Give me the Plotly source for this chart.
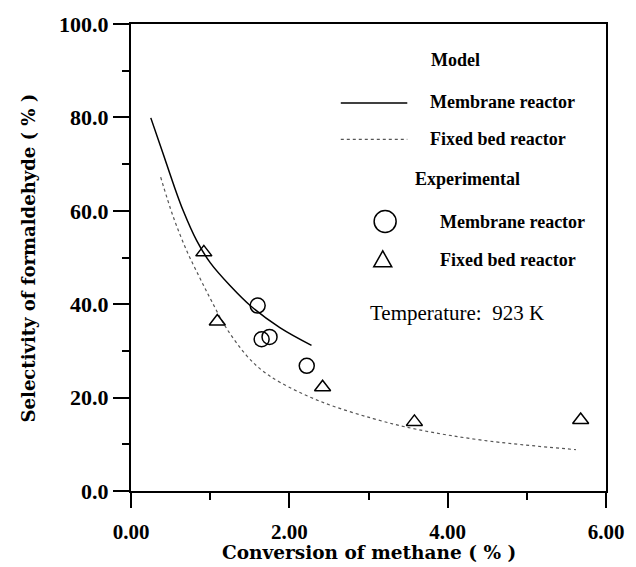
import plotly.graph_objects as go

# Model curves
mem_model_x = [0.25, 0.41, 0.53, 0.66, 0.83, 1.0, 1.25, 1.52, 1.88, 2.28]
mem_model_y = [79.9, 72.0, 66.0, 60.0, 53.6, 48.9, 44.0, 39.5, 35.0, 31.2]
fb_model_x = [0.375, 0.53, 0.70, 0.87, 1.02, 1.20, 1.46, 1.65, 1.88, 2.39, 3.06, 3.61, 4.45, 5.62]
fb_model_y = [67.2, 58.9, 51.6, 45.6, 40.6, 35.0, 29.0, 25.9, 23.3, 19.2, 15.5, 13.2, 10.85, 8.85]

# Experimental points
mem_exp_x = [1.60, 1.65, 1.75, 2.22]
mem_exp_y = [39.7, 32.5, 33.0, 26.8]
fb_exp_x = [0.92, 1.09, 2.42, 3.58, 5.68]
fb_exp_y = [51.1, 36.3, 22.2, 14.8, 15.2]

x_ticks = [0, 2, 4, 6]
y_ticks = [0, 20, 40, 60, 80, 100]

SERIF = "Liberation Serif"
HEAVY = "DejaVu Serif"

fig = go.Figure()
fig.add_trace(go.Scatter(x=mem_model_x, y=mem_model_y, mode="lines", line_shape="spline",
                         line=dict(color="black", width=1.5), showlegend=False))
fig.add_trace(go.Scatter(x=fb_model_x, y=fb_model_y, mode="lines", line_shape="spline",
                         line=dict(color="#555555", width=1.2, dash="dot"), showlegend=False))
fig.add_trace(go.Scatter(x=mem_exp_x, y=mem_exp_y, mode="markers",
                         marker=dict(symbol="circle-open", size=15, color="black", line=dict(width=1.5)),
                         showlegend=False))
fig.add_trace(go.Scatter(x=fb_exp_x, y=fb_exp_y, mode="markers",
                         marker=dict(symbol="triangle-up-open", size=14, color="black", line=dict(width=1.5)),
                         showlegend=False))

axis_common = dict(showline=True, linecolor="black", linewidth=2, mirror=True,
                   ticks="outside", tickcolor="black", tickwidth=2, showgrid=False, zeroline=False)

fig.update_xaxes(range=[0, 6], tickvals=x_ticks, tickformat=".2f", ticklen=15, ticklabelstandoff=6,
                 tickfont=dict(family=SERIF, size=21, color="black", weight="bold"),
                 minor=dict(dtick=1, ticklen=7, ticks="outside", tickcolor="black", tickwidth=2),
                 **axis_common)
fig.update_yaxes(range=[0, 100], tickvals=y_ticks, tickformat=".1f", ticklen=16,
                 tickfont=dict(family=SERIF, size=22, color="black", weight="bold"),
                 minor=dict(dtick=10, ticklen=7, ticks="outside", tickcolor="black", tickwidth=2),
                 **axis_common)

ann = []
ann.append(dict(text="<b>Conversion of methane ( % )</b>", xref="paper", yref="paper", x=0.5, y=-0.132,
                xanchor="center", yanchor="middle", showarrow=False,
                font=dict(family=HEAVY, size=18.5, color="black")))
ann.append(dict(text="<b>Selectivity of formaldehyde ( % )</b>", xref="paper", yref="paper", x=-0.215, y=0.5,
                xanchor="center", yanchor="middle", textangle=-90, showarrow=False,
                font=dict(family=HEAVY, size=18, color="black")))

leg_font = dict(family=SERIF, size=18, color="black")
ann += [
    dict(text="<b>Model</b>", x=4.105, y=92.3, xanchor="center", yanchor="middle", showarrow=False, font=leg_font),
    dict(text="<b>Membrane reactor</b>", x=3.75, y=83.4, xanchor="left", yanchor="middle", showarrow=False, font=leg_font),
    dict(text="<b>Fixed bed reactor</b>", x=3.75, y=75.3, xanchor="left", yanchor="middle", showarrow=False, font=leg_font),
    dict(text="<b>Experimental</b>", x=4.25, y=66.8, xanchor="center", yanchor="middle", showarrow=False, font=leg_font),
    dict(text="<b>Membrane reactor</b>", x=3.88, y=57.7, xanchor="left", yanchor="middle", showarrow=False, font=leg_font),
    dict(text="<b>Fixed bed reactor</b>", x=3.88, y=49.5, xanchor="left", yanchor="middle", showarrow=False, font=leg_font),
    dict(text="Temperature:  923 K", x=2.99, y=38.2, xanchor="left", yanchor="middle", showarrow=False,
         font=dict(family=SERIF, size=21, color="black")),
]
for a in ann:
    a.setdefault("xref", "x")
    a.setdefault("yref", "y")

shapes = [
    dict(type="line", xref="x", yref="y", x0=2.65, x1=3.49, y0=83.1, y1=83.1, line=dict(color="black", width=1.5)),
    dict(type="line", xref="x", yref="y", x0=2.65, x1=3.49, y0=75.3, y1=75.3, line=dict(color="#555555", width=1.2, dash="dot")),
    dict(type="circle", xref="x", yref="y", xsizemode="pixel", ysizemode="pixel", xanchor=3.21, yanchor=57.7,
         x0=-11, x1=11, y0=-11, y1=11, line=dict(color="black", width=1.5)),
    dict(type="path", xref="x", yref="y", xsizemode="pixel", ysizemode="pixel", xanchor=3.18, yanchor=49.5,
         path="M -9 -7 L 9 -7 L 0 9 Z", line=dict(color="black", width=1.5)),
]

fig.update_layout(width=636, height=567, margin=dict(l=131, r=30, t=18, b=76),
                  plot_bgcolor="white", paper_bgcolor="white",
                  annotations=ann, shapes=shapes, showlegend=False)

fig.write_html("out.html")
